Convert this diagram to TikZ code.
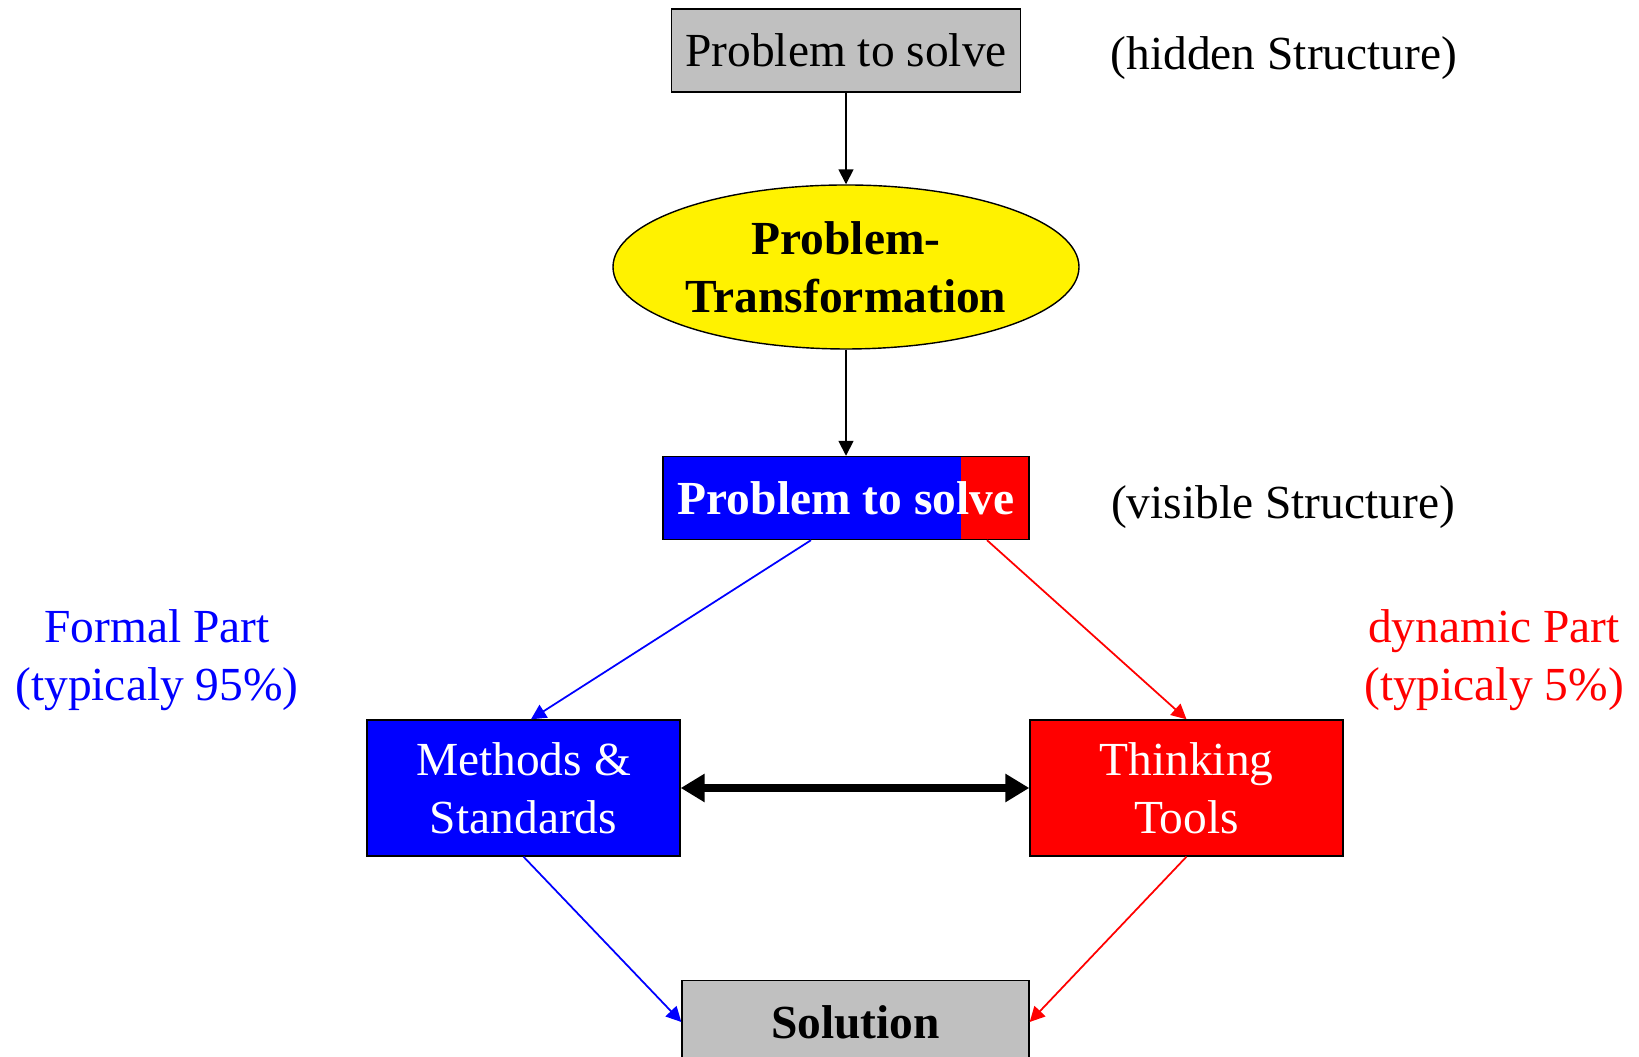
\documentclass[tikz,border=0pt]{standalone}
\usepackage{fontspec}
\setmainfont{Liberation Serif}
\usepackage{tikz}
\usetikzlibrary{arrows.meta,shapes.geometric}
\definecolor{silver}{RGB}{192,192,192}
\tikzstyle{box}=[draw=black, line width=0.8pt, minimum height=1.66cm, inner sep=0pt, align=center]
\tikzstyle{hint}=[align=center, inner sep=0pt]
\tikzstyle{arrow}=[draw=black, line width=1pt, -{Triangle[length=3mm, width=3mm]}]
\tikzstyle{bigarrow}=[draw=black, line width=5pt, {Triangle[length=4.8mm, width=5.4mm]}-{Triangle[length=4.8mm, width=5.4mm]}]

\begin{document}
\begin{tikzpicture}[every node/.style={font=\fontsize{27}{33}\selectfont}]
		   \useasboundingbox (0,0) rectangle (32.78,21.14);
		   \begin{scope}
			   \node (hidden) at (16.92, 20.13)[box, fill=silver, minimum width=6.98cm] {Problem to solve};
			   \node (hiddenlbl) at (25.68, 19.97)[hint] {(hidden Structure)};
			   \node (trans) at (16.92, 15.80)[ellipse, draw=black, line width=0.8pt, fill=yellow, minimum width=9.32cm, minimum height=3.28cm, inner sep=0pt, align=center, font=\fontsize{27}{33}\selectfont\bfseries] {Problem-\\Transformation};
			   \node (visible) at (16.92, 11.18)[box, fill=blue, minimum width=7.32cm, text=white, font=\fontsize{27}{33}\selectfont\bfseries,
				   path picture={\fill[red] ([xshift=-1.36cm]path picture bounding box.north east) rectangle (path picture bounding box.south east);}] {Problem to solve};
			   \node (visiblelbl) at (25.66, 11.00)[hint] {(visible Structure)};
			   \node (formal) at (3.14, 7.93)[hint, text=blue] {Formal Part\\(typicaly 95\%)};
			   \node (dynamic) at (29.88, 7.93)[hint, text=red] {dynamic Part\\(typicaly 5\%)};
			   \node (methods) at (10.47, 5.38)[box, fill=blue, text=white, minimum width=6.26cm, minimum height=2.72cm] {Methods \&\\Standards};
			   \node (tools) at (23.73, 5.38)[box, fill=red, text=white, minimum width=6.26cm, minimum height=2.72cm] {Thinking\\Tools};
			   \node (solution) at (17.11, 0.70)[box, fill=silver, minimum width=6.94cm, font=\fontsize{27}{33}\selectfont\bfseries] {Solution};
		   \end{scope}
		   \begin{scope}
			   \draw [arrow] (hidden) -- (trans);
			   \draw [arrow] (trans) -- (visible);
			   \draw [arrow, draw=blue] ([xshift=-0.70cm]visible.south) -- ([xshift=0.15cm]methods.north);
			   \draw [arrow, draw=red] ([xshift=2.82cm]visible.south) -- (tools.north);
			   \draw [arrow, draw=blue] (methods.south) -- (solution.west);
			   \draw [arrow, draw=red] (tools.south) -- (solution.east);
			   \draw [bigarrow] (methods) -- (tools);
		   \end{scope}
	   \end{tikzpicture}
\end{document}
